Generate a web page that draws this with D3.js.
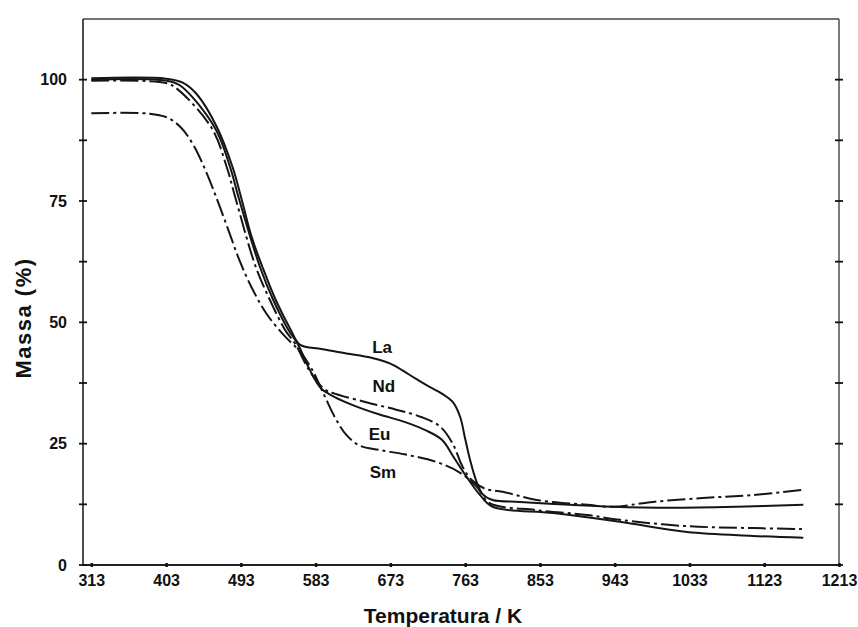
<!DOCTYPE html>
<html>
<head>
<meta charset="utf-8">
<script src="https://cdn.jsdelivr.net/npm/d3@7"></script>
<style>
  body{margin:0;background:#fff;}
  svg text{font-family:"Liberation Sans",Arial,sans-serif;font-weight:bold;fill:#111;}
</style>
</head>
<body>
<div id="chart"></div>
<script>
// temperature (K) and mass (%)
var laT=[313,403,423,440,464,483,494,506,519,535,553,564,590,620,650,673,695,715,735,748,757,763,769,776,784,796,829,889,941,1010,1090,1170];
var laM=[100.3,100.2,99.4,97,90.3,82,75.3,67.6,61.4,54.6,48.5,45.4,44.5,43.6,42.7,41.5,39.3,37.2,35.3,33.6,30.5,26,21.6,17.5,14.6,13.4,13,12.4,12,11.8,12,12.4];

var ndT=[313,403,417,458,476,487,511,528,546,559,575,593,606,645,680,710,733,748,760,771,787,808,849,910,941,989,1049,1109,1170];
var ndM=[99.8,99.3,98,90,82,75.3,61.4,54.6,48.5,45.4,40.2,36.3,35.3,33.5,32,30.5,28.5,25,20.2,17.5,15.7,15.1,13.4,12.4,12,13,13.8,14.4,15.5];

var euT=[313,403,420,462,480,491,516,532,550,562,576,590,606,630,660,690,715,735,750,765,781,796,869,949,1030,1109,1170];
var euM=[100,99.8,98.8,90,82,75.3,61.4,54.6,48.5,45.4,40.2,36.3,34.6,32.8,31,29.5,27.8,25.8,22,18.1,14.4,12,10.7,8.9,6.8,6,5.6];

var smT=[313,383,403,420,436,450,464,478,492,508,525,545,564,578,592,606,620,636,660,690,729,757,777,792,849,910,949,1030,1109,1170];
var smM=[93.1,93,92.3,90.3,86.5,81.5,75.5,69,62.5,56.5,51.5,47.3,44,40.5,35.5,30.5,26.8,24.6,23.7,22.8,21.2,19,16.1,12.8,11.3,10.3,9.3,8,7.6,7.4];

var seriesNames=['La','Nd','Eu','Sm'];
var seriesDash=['none','18,4,3,4','none','18,4,3,4'];
var labelT=[663,665,660,664];
var labelM=[44.9,36.9,27,19.2];

var xTicks=[313,403,493,583,673,763,853,943,1033,1123,1213];
var yTicks=[0,25,50,75,100];
var yMinor=[0,12.5,25,37.5,50,62.5,75,87.5,100];

var W=858,H=627;
var pLeft=83,pRight=839,pTop=19,pBottom=565;

var svg=d3.select('#chart').append('svg').attr('width',W).attr('height',H);

var x=d3.scaleLinear().domain([303,1213]).range([pLeft,pRight]);
var y=d3.scaleLinear().domain([0,112.5]).range([pBottom,pTop]);

// frame: left and bottom heavier, top and right lighter
svg.append('line').attr('x1',pLeft).attr('x2',pRight).attr('y1',pTop).attr('y2',pTop)
  .attr('stroke','#444').attr('stroke-width',1.4);
svg.append('line').attr('x1',pRight).attr('x2',pRight).attr('y1',pTop).attr('y2',pBottom)
  .attr('stroke','#444').attr('stroke-width',1.4);
svg.append('line').attr('x1',pLeft).attr('x2',pLeft).attr('y1',pTop).attr('y2',pBottom)
  .attr('stroke','#222').attr('stroke-width',1.6);
svg.append('line').attr('x1',pLeft).attr('x2',pRight).attr('y1',pBottom).attr('y2',pBottom)
  .attr('stroke','#222').attr('stroke-width',1.8);

// bottom axis
var xAxis=svg.append('g').attr('transform','translate(0,'+pBottom+')')
  .call(d3.axisBottom(x).tickValues(xTicks).tickFormat(d3.format('d')).tickSize(3).tickPadding(7));
xAxis.select('.domain').remove();
xAxis.selectAll('line').attr('stroke','#111').attr('stroke-width',2.5).attr('y1',-2).attr('y2',2);
xAxis.selectAll('text').attr('font-size',16).attr('fill','#111');

// left axis, ticks cross the line
var yAxis=svg.append('g').attr('transform','translate('+pLeft+',0)')
  .call(d3.axisLeft(y).tickValues(yTicks).tickSize(4).tickPadding(12));
yAxis.select('.domain').remove();
yAxis.selectAll('line').remove();
yAxis.selectAll('text').attr('font-size',16).attr('fill','#111');

svg.append('g').selectAll('line').data(yMinor).enter().append('line')
  .attr('x1',pLeft-4).attr('x2',pLeft+4)
  .attr('y1',function(d){return y(d);}).attr('y2',function(d){return y(d);})
  .attr('stroke','#111').attr('stroke-width',1.8);

// right axis ticks
svg.append('g').selectAll('line').data(yMinor).enter().append('line')
  .attr('x1',pRight-4).attr('x2',pRight+4)
  .attr('y1',function(d){return y(d);}).attr('y2',function(d){return y(d);})
  .attr('stroke','#111').attr('stroke-width',1.8);

// curves
var allT=[laT,ndT,euT,smT];
var allM=[laM,ndM,euM,smM];
var line=d3.line()
  .x(function(d){return x(d[0]);})
  .y(function(d){return y(d[1]);})
  .curve(d3.curveCatmullRom.alpha(0.5));

for(var i=0;i<seriesNames.length;i++){
  var pts=allT[i].map(function(t,j){return [t,allM[i][j]];});
  svg.append('path')
    .datum(pts)
    .attr('d',line)
    .attr('fill','none')
    .attr('stroke','#151515')
    .attr('stroke-width',2)
    .attr('stroke-dasharray',seriesDash[i]);
  svg.append('text')
    .attr('x',x(labelT[i])).attr('y',y(labelM[i]))
    .attr('text-anchor','middle').attr('dy','0.35em')
    .attr('font-size',17)
    .text(seriesNames[i]);
}

// axis titles
svg.append('text')
  .attr('x',443).attr('y',623)
  .attr('text-anchor','middle')
  .attr('font-size',21)
  .text('Temperatura / K');

svg.append('text')
  .attr('transform','translate(31,318) rotate(-90)')
  .attr('text-anchor','middle')
  .attr('font-size',22)
  .attr('letter-spacing',1.5)
  .text('Massa (%)');
</script>
</body>
</html>
